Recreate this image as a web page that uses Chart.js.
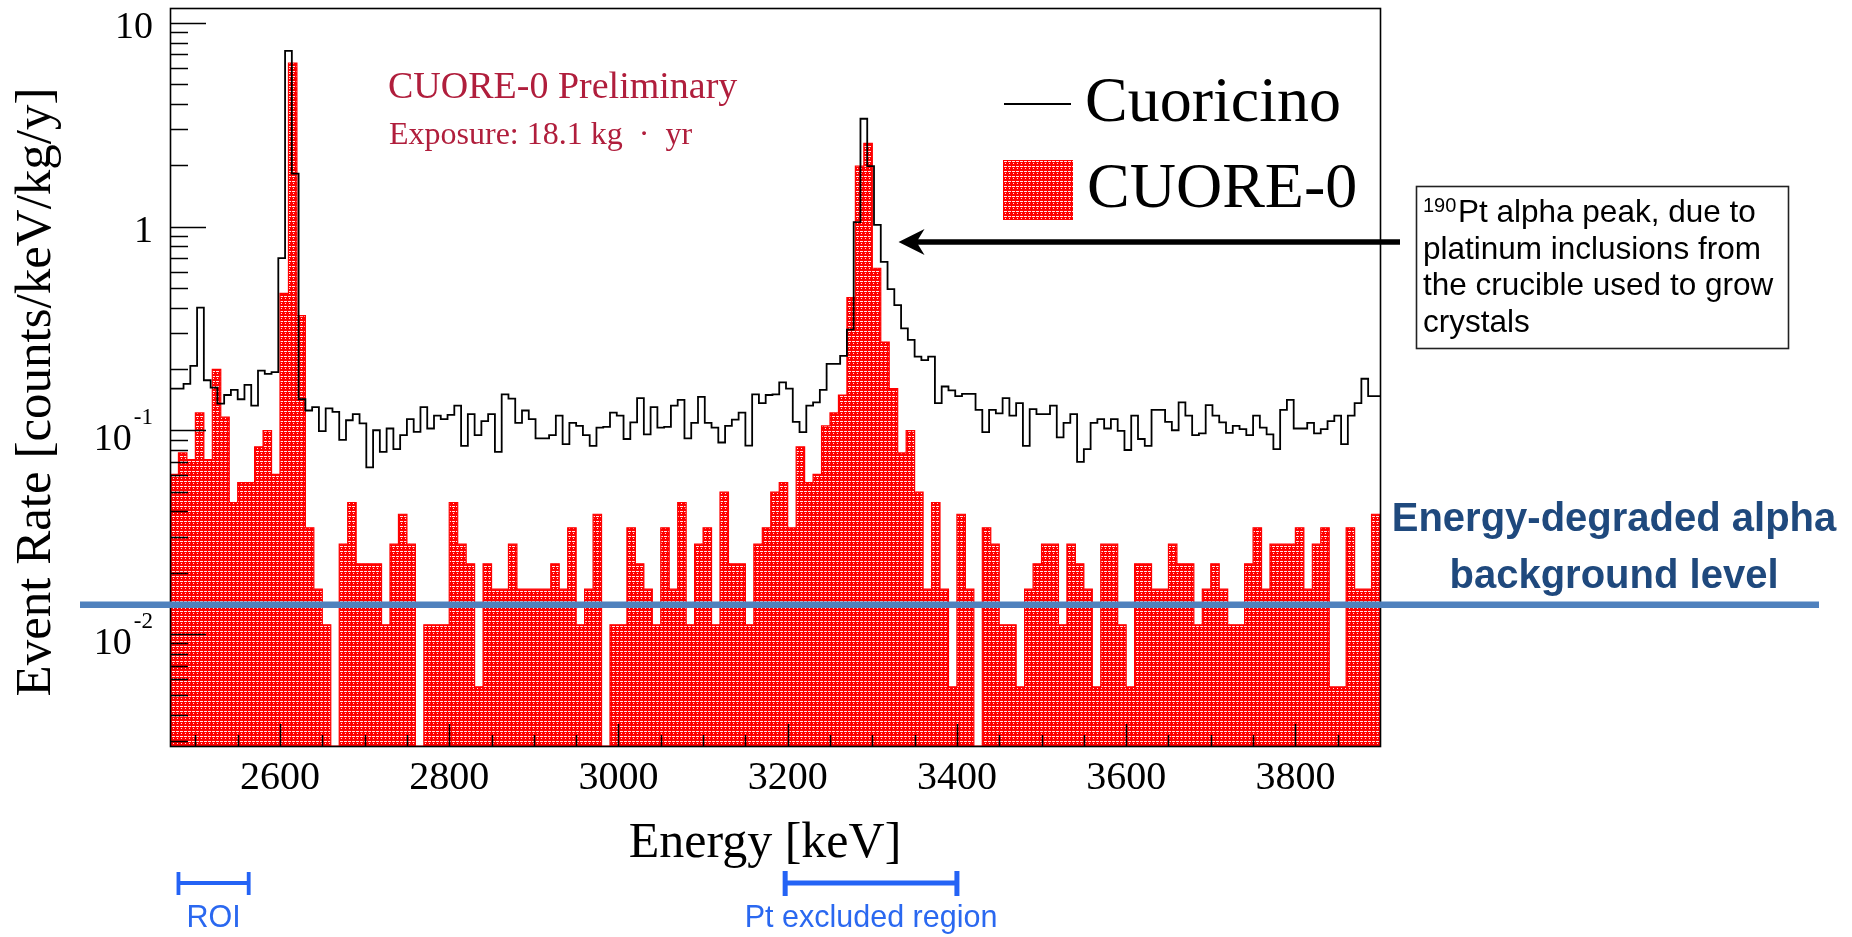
<!DOCTYPE html>
<html>
<head>
<meta charset="utf-8">
<title>CUORE-0 vs Cuoricino alpha region</title>
<script src="https://cdn.jsdelivr.net/npm/chart.js@4.4.1/dist/chart.umd.min.js"></script>
<style>
  html, body { margin: 0; padding: 0; background: #fff; }
  #wrap { width: 1852px; height: 937px; }
</style>
</head>
<body>
<div id="wrap"><canvas id="spectrum" width="1852" height="937"></canvas></div>
<script>
// binning of the two histograms (keV)
const cuore0Start = 2470, cuore0Width = 10;
const cuoricinoStart = 2470, cuoricinoWidth = 8;

// CUORE-0 event rate per 10 keV bin [counts/keV/kg/y]
const cuore0Rate = [
  0.0608, 0.0774, 0.0718, 0.1216, 0.0718, 0.199, 0.116, 0.0442, 0.0553, 0.0553,
  0.0829, 0.0995, 0.0608, 0.470, 6.35, 0.365, 0.0332, 0.0166, 0.0111, 0,
  0.0276, 0.0442, 0.0221, 0.0221, 0.0221, 0.0111, 0.0276, 0.0387, 0.0276, 0,
  0.0111, 0.0111, 0.0111, 0.0442, 0.0276, 0.0221, 0.0055, 0.0221, 0.0166, 0.0166,
  0.0276, 0.0166, 0.0166, 0.0166, 0.0166, 0.0221, 0.0166, 0.0332, 0.0111, 0.0166,
  0.0387, 0, 0.0111, 0.0111, 0.0332, 0.0221, 0.0166, 0.0111, 0.0332, 0.0166,
  0.0442, 0.0111, 0.0276, 0.0332, 0.0111, 0.0497, 0.0221, 0.0221, 0.0111, 0.0276,
  0.0332, 0.0497, 0.0553, 0.0332, 0.0829, 0.0553, 0.0608, 0.105, 0.1216, 0.149,
  0.448, 1.98, 2.56, 0.624, 0.271, 0.160, 0.0774, 0.0995, 0.0497, 0.0166,
  0.0442, 0.0166, 0.0055, 0.0387, 0.0166, 0, 0.0332, 0.0276, 0.0111, 0.0111,
  0.0055, 0.0166, 0.0221, 0.0276, 0.0276, 0.0111, 0.0276, 0.0221, 0.0166, 0.0055,
  0.0276, 0.0276, 0.0111, 0.0055, 0.0221, 0.0221, 0.0166, 0.0166, 0.0276, 0.0221,
  0.0221, 0.0111, 0.0166, 0.0221, 0.0166, 0.0111, 0.0111, 0.0221, 0.0332, 0.0166,
  0.0276, 0.0276, 0.0276, 0.0332, 0.0166, 0.0276, 0.0332, 0.0055, 0.0055, 0.0332,
  0.0166, 0.0166, 0.0387
];

// Cuoricino event rate per 8 keV bin
const cuoricinoRate = [
  0.160, 0.160, 0.169, 0.207, 0.400, 0.176, 0.162, 0.135, 0.149, 0.158,
  0.142, 0.167, 0.132, 0.196, 0.189, 0.193, 0.70, 7.28, 1.82, 0.142,
  0.125, 0.130, 0.099, 0.128, 0.123, 0.0898, 0.112, 0.120, 0.108, 0.0658,
  0.100, 0.0783, 0.102, 0.0808, 0.0946, 0.1135, 0.0983, 0.130, 0.102, 0.118,
  0.1135, 0.119, 0.132, 0.0839, 0.120, 0.0946, 0.111, 0.120, 0.0783, 0.150,
  0.143, 0.1086, 0.125, 0.1135, 0.0912, 0.0912, 0.0946, 0.118, 0.0855, 0.1086,
  0.105, 0.0946, 0.0839, 0.103, 0.104, 0.122, 0.118, 0.0906, 0.1094, 0.1437,
  0.0955, 0.130, 0.103, 0.104, 0.132, 0.141, 0.0912, 0.1086, 0.146, 0.1086,
  0.103, 0.0871, 0.105, 0.1127, 0.122, 0.084, 0.150, 0.136, 0.149, 0.150,
  0.172, 0.160, 0.110, 0.098, 0.132, 0.137, 0.158, 0.212, 0.212, 0.232,
  0.312, 1.05, 3.38, 1.98, 1.02, 0.670, 0.493, 0.411, 0.316, 0.278,
  0.230, 0.221, 0.230, 0.136, 0.164, 0.157, 0.147, 0.151, 0.151, 0.126,
  0.098, 0.126, 0.121, 0.1437, 0.118, 0.136, 0.0839, 0.127, 0.120, 0.120,
  0.132, 0.0923, 0.1086, 0.120, 0.070, 0.0808, 0.1086, 0.1135, 0.102, 0.1135,
  0.0994, 0.080, 0.118, 0.0906, 0.0839, 0.126, 0.126, 0.110, 0.100, 0.137,
  0.118, 0.0946, 0.0966, 0.133, 0.118, 0.1094, 0.097, 0.105, 0.1014, 0.0946,
  0.118, 0.103, 0.0955, 0.0808, 0.126, 0.141, 0.102, 0.102, 0.1086, 0.0966,
  0.1014, 0.111, 0.118, 0.0855, 0.118, 0.136, 0.179, 0.147, 0.147
];

// axes
const xMin = 2470, xMax = 3900;
const yMin = 0.00282, yMax = 11.82;
const xTickLabels = [2600, 2800, 3000, 3200, 3400, 3600, 3800];
const yTickValues = [10, 1, 0.1, 0.01];
const yTickLabels = [['10', ''], ['1', ''], ['10', '-1'], ['10', '-2']];

// annotations
const bgLevel = 0.0139;          // energy-degraded alpha background level
const roiRange = [2480, 2563];
const ptRange = [3197, 3400];
const ptArrowTip = [3331, 0.84];

function histPoints(start, width, values) {
  const pts = values.map((v, i) => ({ x: start + i * width, y: v > 0 ? v : yMin }));
  pts.push({ x: start + values.length * width, y: pts[pts.length - 1].y });
  return pts;
}

const canvas = document.getElementById('spectrum');
const ctx = canvas.getContext('2d');

// red fill with white dotted rows, like the ROOT fill style
function redPattern() {
  const c = document.createElement('canvas');
  c.width = 8; c.height = 5;
  const g = c.getContext('2d');
  g.fillStyle = '#ff0000';
  g.fillRect(0, 0, 8, 5);
  g.fillStyle = 'rgba(255,255,255,0.9)';
  g.fillRect(0, 1, 3, 1); g.fillRect(4, 1, 3, 1);
  g.fillRect(1, 3, 1, 1); g.fillRect(5, 3, 1, 1);
  return ctx.createPattern(c, 'repeat');
}
const fillPattern = redPattern();

const decorations = {
  id: 'decorations',
  afterDatasetsDraw(chart) {
    const c = chart.ctx, a = chart.chartArea;
    const xs = chart.scales.x, ys = chart.scales.y;
    c.save();
    c.strokeStyle = '#000';
    c.lineWidth = 1.5;
    // y ticks (inside the frame)
    c.beginPath();
    for (let e = -3; e <= 1; e++) {
      for (let m = 1; m <= 9; m++) {
        const v = m * Math.pow(10, e);
        if (v < yMin || v > yMax) continue;
        const y = Math.round(ys.getPixelForValue(v)) + 0.5;
        c.moveTo(a.left, y);
        c.lineTo(a.left + (m === 1 ? 36 : 18), y);
      }
    }
    // x ticks
    for (let E = 2500; E < xMax; E += 50) {
      const x = Math.round(xs.getPixelForValue(E)) + 0.5;
      c.moveTo(x, a.bottom);
      c.lineTo(x, a.bottom - ((E - 2600) % 200 === 0 ? 22 : 11));
    }
    c.stroke();
    // frame
    c.lineWidth = 1.6;
    c.strokeRect(a.left + 0.5, a.top + 0.5, a.right - a.left, a.bottom - a.top);

    // background level line
    const yb = ys.getPixelForValue(bgLevel);
    c.strokeStyle = '#4f81bd';
    c.lineWidth = 6.5;
    c.beginPath();
    c.moveTo(80, yb);
    c.lineTo(1819, yb);
    c.stroke();
    c.restore();
  },
  afterDraw(chart) {
    const c = chart.ctx;
    const xs = chart.scales.x, ys = chart.scales.y;
    c.save();
    c.fillStyle = '#000';
    c.textBaseline = 'alphabetic';

    // y tick labels
    yTickValues.forEach((v, i) => {
      const y = ys.getPixelForValue(v);
      const [base, exp] = yTickLabels[i];
      c.textAlign = 'right';
      if (!exp) {
        c.font = '38px "Liberation Serif", "Times New Roman", serif';
        c.fillText(base, 153, y + 15);
      } else {
        c.font = '23px "Liberation Serif", "Times New Roman", serif';
        c.fillText(exp, 153, y - 6);
        const w = c.measureText(exp).width;
        c.font = '38px "Liberation Serif", "Times New Roman", serif';
        c.fillText(base, 153 - w - 2, y + 20);
      }
    });

    // x tick labels
    c.textAlign = 'center';
    c.font = '40px "Liberation Serif", "Times New Roman", serif';
    xTickLabels.forEach(v => c.fillText(String(v), xs.getPixelForValue(v), 789));

    // axis titles
    c.font = '50px "Liberation Serif", "Times New Roman", serif';
    c.fillText('Energy [keV]', 765, 857);
    c.save();
    c.translate(50, 392);
    c.rotate(-Math.PI / 2);
    c.font = '51px "Liberation Serif", "Times New Roman", serif';
    c.fillText('Event Rate [counts/keV/kg/y]', 0, 0);
    c.restore();

    // preliminary label
    c.textAlign = 'left';
    c.fillStyle = '#b01e3c';
    c.font = '38px "Liberation Serif", "Times New Roman", serif';
    c.fillText('CUORE-0 Preliminary', 388, 98);
    c.font = '32px "Liberation Serif", "Times New Roman", serif';
    c.fillText('Exposure: 18.1 kg  \u00b7  yr', 389, 144);

    // legend
    c.fillStyle = '#000';
    c.strokeStyle = '#000';
    c.lineWidth = 1.8;
    c.beginPath();
    c.moveTo(1004, 104);
    c.lineTo(1071, 104);
    c.stroke();
    c.fillStyle = fillPattern;
    c.fillRect(1003, 160, 70, 60);
    c.fillStyle = '#000';
    c.font = '64px "Liberation Serif", "Times New Roman", serif';
    c.fillText('Cuoricino', 1085, 121);
    c.fillText('CUORE-0', 1087, 207);

    // Pt peak note
    c.strokeStyle = '#222';
    c.lineWidth = 1.6;
    c.strokeRect(1416.5, 186.5, 372, 162);
    c.font = '20px "Liberation Sans", Arial, sans-serif';
    c.fillText('190', 1423, 212);
    c.font = '31.5px "Liberation Sans", Arial, sans-serif';
    c.fillText('Pt alpha peak, due to', 1458, 222);
    c.fillText('platinum inclusions from', 1423, 258.5);
    c.fillText('the crucible used to grow', 1423, 295);
    c.fillText('crystals', 1423, 331.5);

    // arrow to the Pt peak
    const tipX = xs.getPixelForValue(ptArrowTip[0]);
    const tipY = ys.getPixelForValue(ptArrowTip[1]);
    c.strokeStyle = '#000';
    c.lineWidth = 5.5;
    c.beginPath();
    c.moveTo(1400, tipY);
    c.lineTo(tipX + 16, tipY);
    c.stroke();
    c.beginPath();
    c.moveTo(tipX, tipY);
    c.lineTo(tipX + 26, tipY - 13);
    c.lineTo(tipX + 18, tipY);
    c.lineTo(tipX + 26, tipY + 13);
    c.closePath();
    c.fill();

    // background level caption
    c.fillStyle = '#1f497d';
    c.textAlign = 'center';
    c.font = 'bold 40px "Liberation Sans", Arial, sans-serif';
    c.fillText('Energy-degraded alpha', 1614, 531);
    c.fillText('background level', 1614, 588);

    // ROI and Pt excluded region brackets
    c.strokeStyle = '#2463f5';
    c.fillStyle = '#2a68f0';
    const bracket = (range, lw, y0, y1) => {
      const x1 = xs.getPixelForValue(range[0]);
      const x2 = xs.getPixelForValue(range[1]);
      c.lineWidth = lw;
      c.beginPath();
      c.moveTo(x1, 883); c.lineTo(x2, 883);
      c.moveTo(x1, y0); c.lineTo(x1, y1);
      c.moveTo(x2, y0); c.lineTo(x2, y1);
      c.stroke();
      return (x1 + x2) / 2;
    };
    c.font = '30.5px "Liberation Sans", Arial, sans-serif';
    c.fillText('ROI', bracket(roiRange, 3.8, 872, 895), 927);
    c.fillText('Pt excluded region', bracket(ptRange, 5, 871, 896), 927);
    c.restore();
  }
};

new Chart(ctx, {
  type: 'line',
  data: {
    datasets: [
      {
        label: 'Cuoricino',
        data: histPoints(cuoricinoStart, cuoricinoWidth, cuoricinoRate),
        stepped: true,
        borderColor: '#000',
        borderWidth: 1.8,
        fill: false,
        pointRadius: 0
      },
      {
        label: 'CUORE-0',
        data: histPoints(cuore0Start, cuore0Width, cuore0Rate),
        stepped: true,
        borderColor: '#ff0000',
        borderWidth: 1.2,
        backgroundColor: fillPattern,
        fill: 'start',
        pointRadius: 0
      }
    ]
  },
  options: {
    responsive: false,
    animation: false,
    layout: { padding: { left: 170, right: 472, top: 8, bottom: 191 } },
    plugins: { legend: { display: false }, tooltip: { enabled: false } },
    scales: {
      x: { type: 'linear', min: xMin, max: xMax, display: false },
      y: { type: 'logarithmic', min: yMin, max: yMax, display: false }
    }
  },
  plugins: [decorations]
});
</script>
</body>
</html>
